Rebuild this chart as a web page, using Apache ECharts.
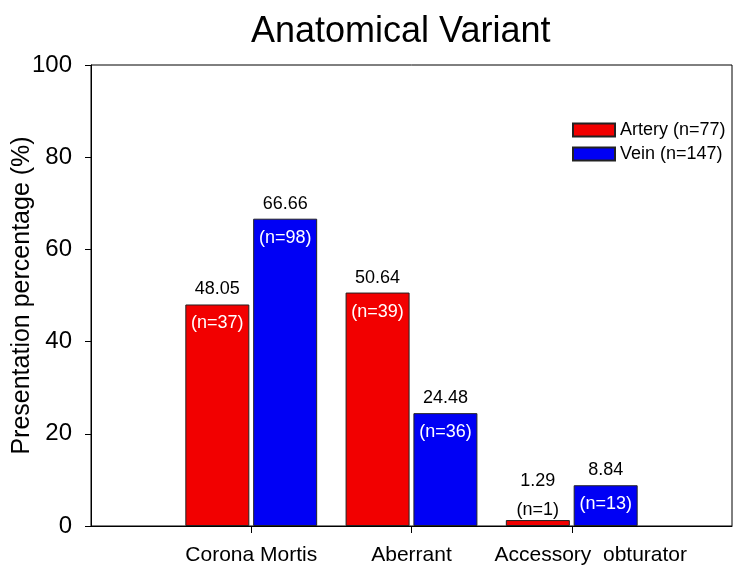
<!DOCTYPE html>
<html>
<head>
<meta charset="utf-8">
<script src="https://cdn.jsdelivr.net/npm/echarts@6/dist/echarts.min.js"></script>
<style>
  html, body { margin: 0; padding: 0; background: #fff; }
  #chart { width: 750px; height: 582px; }
</style>
</head>
<body>
<div id="chart"></div>
<script>
const categories = ['Corona Mortis', 'Aberrant', 'Accessory  obturator']
const arteryPct = [48.05, 50.64, 1.29]
const veinPct = [66.66, 24.48, 8.84]
const arteryN = [37, 39, 1]
const veinN = [98, 36, 13]
const yTicks = [0, 20, 40, 60, 80, 100]

const font = "'Liberation Sans', Arial, sans-serif"

// empty slots at both ends so the axis runs 0..4 with groups at 1, 2, 3
const axisCats = [''].concat(categories, [''])

function barLabel(value, n) {
  // the tiny bar gets its n-label in black above the bar
  const small = value < 5
  const lh = small ? 29 : 34
  return {
    show: true,
    position: 'top',
    distance: 0,
    offset: [0, small ? 4 : 36],
    formatter: '{v|' + value.toFixed(2) + '}\n{n|(n=' + n + ')}',
    rich: {
      v: { fontSize: 18, fontFamily: font, color: '#000', lineHeight: lh },
      n: { fontSize: 18, fontFamily: font, color: small ? '#000' : '#fff', lineHeight: lh }
    }
  }
}

function buildData(values, counts) {
  const out = ['-']
  values.forEach(function(v, i) {
    out.push({ value: v, label: barLabel(v, counts[i]) })
  })
  out.push('-')
  return out
}

const chart = echarts.init(document.getElementById('chart'))
const option = {
  animation: false,
  title: {
    text: 'Anatomical Variant',
    left: 246,
    top: 9,
    textStyle: { fontSize: 36, fontWeight: 'normal', fontFamily: font, color: '#000' }
  },
  legend: {
    orient: 'vertical',
    left: 567,
    top: 116,
    itemWidth: 42,
    itemHeight: 13,
    itemGap: 6,
    icon: 'rect',
    textStyle: { fontSize: 18, fontFamily: font, color: '#000' },
    data: ['Artery (n=77)', 'Vein (n=147)']
  },
  grid: {
    left: 91,
    right: 18,
    top: 65,
    bottom: 56,
    outerBoundsMode: 'none',
    containLabel: false,
    show: true,
    borderColor: '#000',
    borderWidth: 1
  },
  xAxis: {
    type: 'category',
    data: axisCats,
    boundaryGap: false,
    axisLine: { lineStyle: { color: '#000', width: 1 } },
    axisTick: {
      length: 7,
      lineStyle: { color: '#000' },
      interval: function(index) { return index > 0 && index < axisCats.length - 1 }
    },
    axisLabel: {
      interval: 0,
      margin: 19,
      fontSize: 21,
      fontFamily: font,
      color: '#000',
      formatter: function(value, index) {
        if (index === axisCats.length - 2) return '{shift|' + value + '}'
        return value
      },
      rich: {
        shift: { fontSize: 21, fontFamily: font, color: '#000', padding: [0, 0, 0, 38] }
      }
    },
    splitLine: { show: false }
  },
  yAxis: {
    type: 'value',
    min: yTicks[0],
    max: yTicks[yTicks.length - 1],
    interval: yTicks[1] - yTicks[0],
    name: 'Presentation percentage (%)',
    nameLocation: 'middle',
    nameGap: 56,
    nameMoveOverlap: false,
    nameTextStyle: { fontSize: 25, fontFamily: font, color: '#000' },
    axisLine: { show: true, lineStyle: { color: '#000', width: 1 } },
    axisTick: { show: true, length: 6, lineStyle: { color: '#000' } },
    axisLabel: { margin: 19, fontSize: 24, fontFamily: font, color: '#000' },
    splitLine: { show: false }
  },
  series: [
    {
      name: 'Artery (n=77)',
      type: 'bar',
      barWidth: 64,
      barGap: '6%',
      itemStyle: { color: '#f20000', borderColor: '#222', borderWidth: 1 },
      data: buildData(arteryPct, arteryN)
    },
    {
      name: 'Vein (n=147)',
      type: 'bar',
      barWidth: 64,
      itemStyle: { color: '#0000f5', borderColor: '#222', borderWidth: 1 },
      data: buildData(veinPct, veinN)
    }
  ]
}
chart.setOption(option)
window.onresize = () => {
  chart.resize()
}
</script>
</body>
</html>
